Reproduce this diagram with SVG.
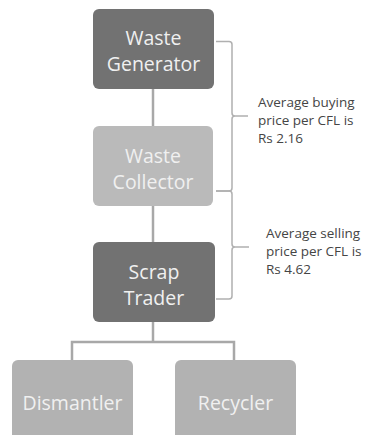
<svg xmlns="http://www.w3.org/2000/svg" width="370" height="435" viewBox="0 0 370 435">
<style>
.box{stroke:none}
.dark{fill:#727272}
.light{fill:#bababa}
.mid{fill:#b2b2b2}
.bt{font-family:"Open Sans","Liberation Sans",sans-serif;font-size:19.5px;fill:#f0f0f0;text-anchor:middle}
.lt{font-family:"Open Sans","Liberation Sans",sans-serif;font-size:13.5px;fill:#454545}
.conn{fill:none;stroke:#a8a8a8;stroke-width:2.5}
.brace{fill:none;stroke:#b0b0b0;stroke-width:1.5}
</style>
<rect width="370" height="435" fill="#ffffff"/>
<g id="connectors">
<line class="conn" x1="153" y1="89" x2="153" y2="126"/>
<line class="conn" x1="153" y1="206" x2="153" y2="242"/>
<polyline class="conn" points="153,322 153,342"/>
<polyline class="conn" points="72,360 72,342 234,342 234,360"/>
<path class="brace" d="M216,41.5 H229 Q232,41.5 232,44.5 V113 Q232,116 235,116 H248 M235,116 Q232,116 232,119 V188 Q232,191 229,191 H216"/>
<path class="brace" d="M216,191 H229 Q232,191 232,194 V244 Q232,247 235,247 H249 M235,247 Q232,247 232,250 V296 Q232,299 229,299 H216"/>
</g>
<g id="waste-generator">
<rect class="box dark" x="93" y="9" width="121" height="80" rx="6"/>
<text class="bt" x="153.5" y="45">Waste</text>
<text class="bt" x="153.5" y="71">Generator</text>
</g>
<g id="waste-collector">
<rect class="box light" x="93" y="126" width="120" height="80" rx="6"/>
<text class="bt" x="153" y="163">Waste</text>
<text class="bt" x="153" y="189">Collector</text>
</g>
<g id="scrap-trader">
<rect class="box dark" x="93" y="242" width="122" height="80" rx="6"/>
<text class="bt" x="154" y="279">Scrap</text>
<text class="bt" x="154" y="305">Trader</text>
</g>
<g id="dismantler">
<rect class="box mid" x="12" y="360" width="121" height="90" rx="6"/>
<text class="bt" x="72.5" y="410">Dismantler</text>
</g>
<g id="recycler">
<rect class="box mid" x="175" y="360" width="121" height="90" rx="6"/>
<text class="bt" x="235.5" y="410">Recycler</text>
</g>
<g id="label-buying">
<text class="lt" x="258" y="107">Average buying</text>
<text class="lt" x="258" y="125">price per CFL is</text>
<text class="lt" x="258" y="143">Rs 2.16</text>
</g>
<g id="label-selling">
<text class="lt" x="266" y="238">Average selling</text>
<text class="lt" x="266" y="256">price per CFL is</text>
<text class="lt" x="266" y="274">Rs 4.62</text>
</g>
</svg>
